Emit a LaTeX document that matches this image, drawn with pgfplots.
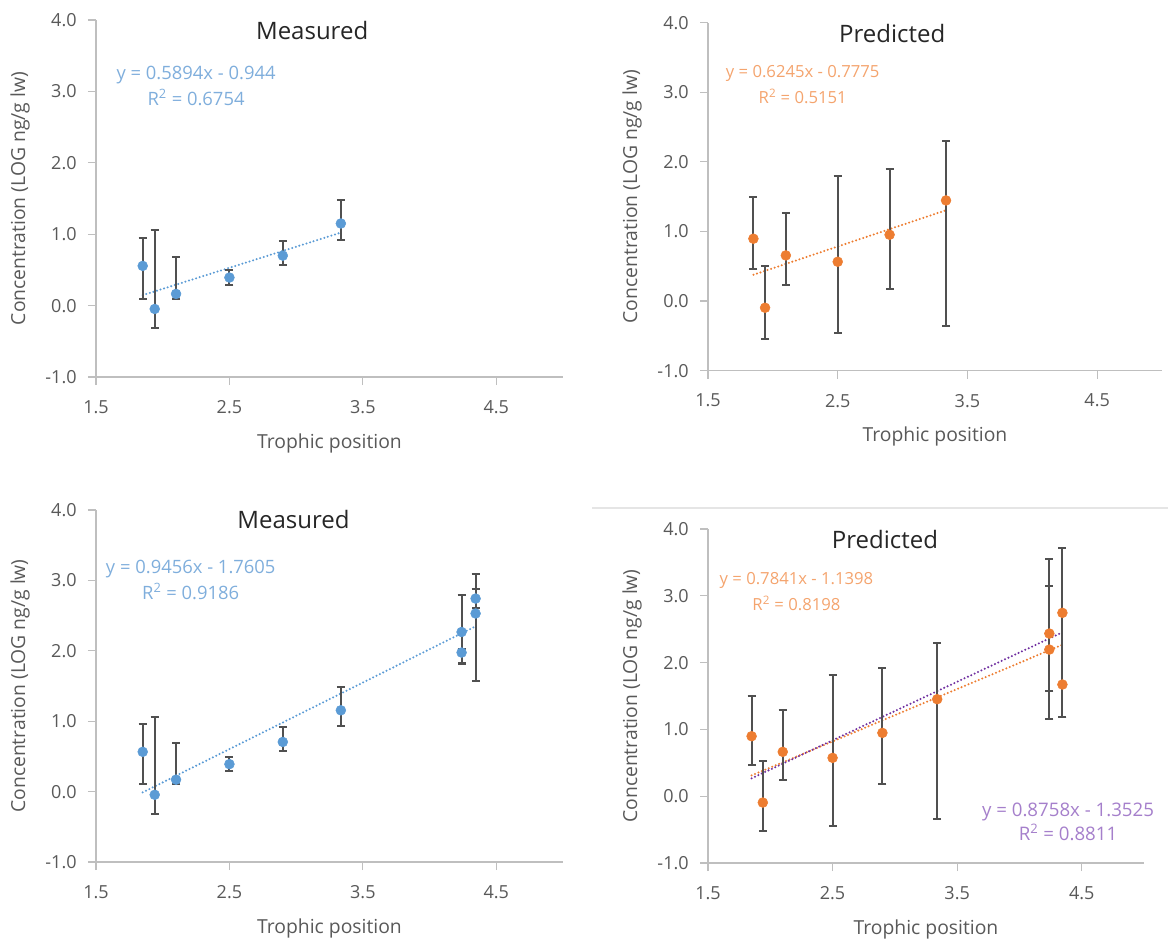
\documentclass[border=0pt]{standalone}
\usepackage{fontspec}
\setmainfont{Open Sans}
\usepackage{pgfplots}
\pgfplotsset{compat=1.18}
\definecolor{ptblue}{HTML}{5B9BD5}
\definecolor{ptorange}{HTML}{ED7D31}
\definecolor{lnpurple}{HTML}{7030A0}
\definecolor{eqblue}{HTML}{7FAEDC}
\definecolor{eqorange}{HTML}{F4A46E}
\definecolor{eqpurple}{HTML}{A57FCB}
\definecolor{axgray}{HTML}{BFBFBF}
\definecolor{labgray}{HTML}{595959}
\definecolor{errgray}{HTML}{505050}
\definecolor{titgray}{HTML}{262626}
\tikzset{
  ttl/.style={font=\fontsize{18}{20}\selectfont, text=titgray},
  eq/.style={font=\fontsize{12.5}{19.5}\selectfont, text=#1, align=center},
  eqbig/.style={font=\fontsize{13.8}{19.5}\selectfont, text=#1, align=center},
}
\pgfplotsset{
  panel/.style={
    scale only axis,
    axis x line=bottom, axis y line=left,
    axis line style={-, draw=axgray, line width=0.9pt},
    xmin=1.5, xmax=5.0, ymin=-1, ymax=4,
    xtick={1.5,2.5,3.5,4.5}, ytick={-1,0,1,2,3,4},
    tick align=outside, major tick length=6pt,
    tick style={axgray, line width=0.9pt},
    /pgf/number format/assume math mode=true,
    xticklabel style={font=\fontsize{13.5}{15}\selectfont, text=labgray, yshift=-8pt,
      /pgf/number format/.cd, fixed, fixed zerofill, precision=1},
    yticklabel style={font=\fontsize{13.5}{15}\selectfont, text=labgray, xshift=-5pt,
      /pgf/number format/.cd, fixed, fixed zerofill, precision=1},
    xlabel={Trophic position}, ylabel={Concentration (LOG ng/g lw)},
    every axis x label/.style={at={(axis description cs:0.5,0)}, yshift=-49.5pt, anchor=center,
      font=\fontsize{14.5}{17}\selectfont, text=labgray},
    every axis y label/.style={at={(axis description cs:0,0.5)}, xshift=-57pt, rotate=90, anchor=center,
      font=\fontsize{14.5}{17}\selectfont, text=labgray},
    clip=false,
  },
  pts/.style={only marks, mark=*, mark size=3.7pt, mark options={draw=#1, fill=#1},
    error bars/.cd, y dir=both, y explicit,
    error bar style={color=errgray, line width=1.5pt},
    error mark options={rotate=90, mark size=3pt, line width=1.5pt, color=errgray}},
  trend/.style={no markers, draw=#1, line width=1.7pt, line cap=round, dash pattern=on 0pt off 2.8pt},
}
\begin{document}
\begin{tikzpicture}
\useasboundingbox (0pt,0pt) rectangle (876pt,-708.75pt);
\draw[color=black!10, line width=0.8pt] (444pt,-381pt) -- (876pt,-381pt);

% Top-left: Measured
\begin{axis}[panel, at={(72pt,-282.75pt)}, anchor=south west, width=350.25pt, height=267.75pt]
\addplot[trend=ptblue] coordinates {(1.85,0.146) (3.335,1.022)};
\addplot[pts=ptblue] coordinates {
  (1.85,0.556) += (0,0.397) -= (0,0.458)
  (1.94,-0.047) += (0,1.107) -= (0,0.271)
  (2.10,0.164) += (0,0.518) -= (0,0.066)
  (2.50,0.393) += (0,0.102) -= (0,0.108)
  (2.90,0.700) += (0,0.211) -= (0,0.130)
  (3.335,1.150) += (0,0.331) -= (0,0.225)
};
\node[ttl] at (axis cs:3.12,3.85) {Measured};
\node[eqbig=eqblue] at (axis cs:2.25,3.08) {y = 0.5894x - 0.944\\R\textsuperscript{2} = 0.6754};
\end{axis}

% Top-right: Predicted
\begin{axis}[panel, at={(531pt,-278pt)}, anchor=south west, width=340.5pt, height=261pt]
\addplot[trend=ptorange] coordinates {(1.85,0.378) (3.335,1.305)};
\addplot[pts=ptorange] coordinates {
  (1.85,0.896) += (0,0.594) -= (0,0.436)
  (1.94,-0.096) += (0,0.594) -= (0,0.450)
  (2.10,0.656) += (0,0.613) -= (0,0.431)
  (2.50,0.565) += (0,1.235) -= (0,1.020)
  (2.90,0.953) += (0,0.944) -= (0,0.785)
  (3.335,1.446) += (0,0.848) -= (0,1.800)
};
\node[ttl] at (axis cs:2.92,3.85) {Predicted};
\node[eq=eqorange] at (axis cs:2.23,3.11) {y = 0.6245x - 0.7775\\R\textsuperscript{2} = 0.5151};
\end{axis}

% Bottom-left: Measured
\begin{axis}[panel, at={(72pt,-646.5pt)}, anchor=south west, width=350.25pt, height=264pt]
\addplot[trend=ptblue] coordinates {(1.85,-0.011) (4.345,2.348)};
\addplot[pts=ptblue] coordinates {
  (1.85,0.565) += (0,0.392) -= (0,0.460)
  (1.94,-0.045) += (0,1.110) -= (0,0.270)
  (2.10,0.170) += (0,0.515) -= (0,0.065)
  (2.50,0.390) += (0,0.105) -= (0,0.100)
  (2.90,0.705) += (0,0.210) -= (0,0.125)
  (3.335,1.155) += (0,0.330) -= (0,0.230)
  (4.24,2.267) += (0,0.523) -= (0,0.457)
  (4.24,1.975) += (0,0.055) -= (0,0.145)
  (4.345,2.742) += (0,0.355) -= (0,0.134)
  (4.345,2.530) += (0,0.350) -= (0,0.953)
};
\node[ttl] at (axis cs:2.98,3.86) {Measured};
\node[eqbig=eqblue] at (axis cs:2.21,3.0) {y = 0.9456x - 1.7605\\R\textsuperscript{2} = 0.9186};
\end{axis}

% Bottom-right: Predicted
\begin{axis}[panel, at={(531pt,-647.25pt)}, anchor=south west, width=327pt, height=250.5pt]
\addplot[trend=ptorange] coordinates {(1.85,0.311) (4.345,2.267)};
\addplot[trend=lnpurple] coordinates {(1.85,0.268) (4.345,2.453)};
\addplot[pts=ptorange] coordinates {
  (1.85,0.898) += (0,0.609) -= (0,0.429)
  (1.94,-0.095) += (0,0.619) -= (0,0.429)
  (2.10,0.664) += (0,0.623) -= (0,0.419)
  (2.50,0.574) += (0,1.237) -= (0,1.018)
  (2.90,0.948) += (0,0.968) -= (0,0.758)
  (3.34,1.452) += (0,0.843) -= (0,1.796)
  (4.24,2.435) += (0,0.705) -= (0,1.275)
  (4.24,2.195) += (0,1.355) -= (0,0.615)
  (4.345,2.745) += (0,0.971) -= (0,1.562)
  (4.345,1.672) += (0,2.040) -= (0,0.490)
};
\node[ttl] at (axis cs:2.92,3.85) {Predicted};
\node[eq=eqorange] at (axis cs:2.21,3.07) {y = 0.7841x - 1.1398\\R\textsuperscript{2} = 0.8198};
\node[font=\fontsize{14}{18}\selectfont, text=eqpurple, align=center] at (axis cs:4.39,-0.39) {y = 0.8758x - 1.3525\\R\textsuperscript{2} = 0.8811};
\end{axis}
\end{tikzpicture}
\end{document}
